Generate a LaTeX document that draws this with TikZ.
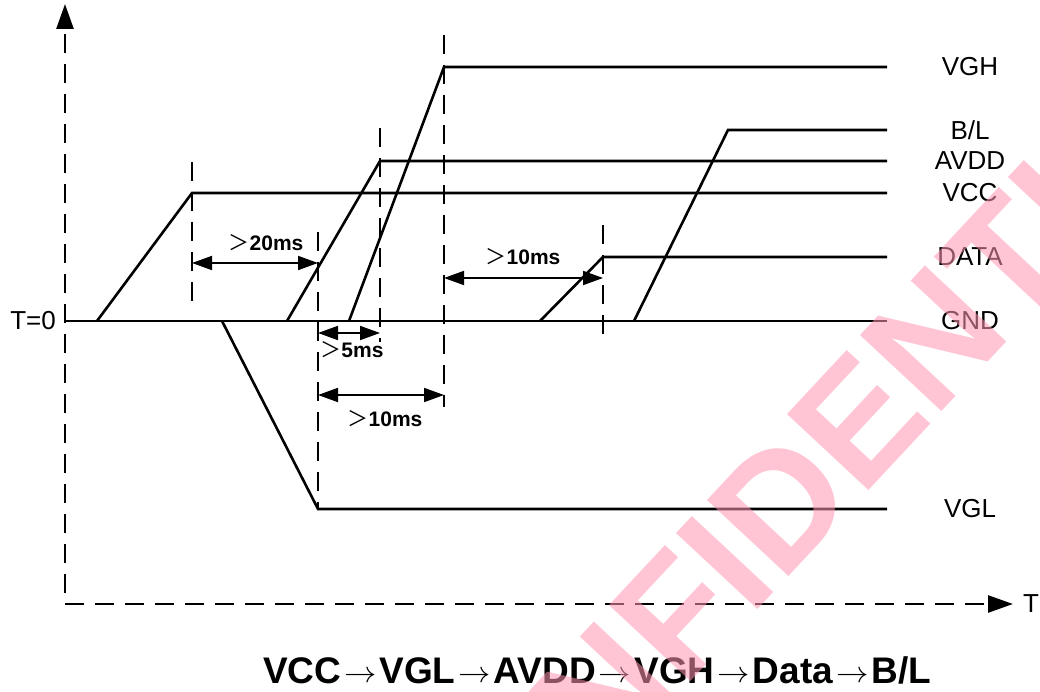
\documentclass[tikz,border=0pt]{standalone}
\usepackage{fontspec}
\setmainfont{Liberation Sans}
\newfontfamily\cjk{Noto Sans CJK SC}
\usetikzlibrary{arrows.meta,positioning,calc}
\definecolor{wmpink}{RGB}{255,150,178}
\tikzset{
  sigln/.style={line width=2.6pt, line join=miter},
  dashln/.style={line width=2.6pt, dash pattern=on 19pt off 11pt},
  axisln/.style={dashln, -{Triangle[length=25pt,width=17pt]}},
  dimln/.style={{Triangle[length=20pt,width=14pt]}-{Triangle[length=20pt,width=14pt]}, line width=1.8pt},
  siglab/.style={font=\fontsize{26}{30}\selectfont},
  dimlab/.style={font=\fontsize{21}{24}\selectfont\bfseries, inner sep=0pt},
}
\newcommand{\moreThan}{{\cjk\mdseries ＞}}
\newcommand{\seqarr}{\kern3pt\raisebox{1pt}{\scalebox{1.3}[1.2]{$\rightarrow$}}\kern3pt}
\newcommand{\dimarrow}[6]{%
  \coordinate (#1-l) at (#2,#4);
  \coordinate (#1-r) at (#3,#4);
  \draw[dimln] (#1-l) -- (#1-r);
  \node[dimlab] (#1-t) at #6 {\moreThan#5};
}

\begin{document}
\begin{tikzpicture}[x=1pt, y=-1pt]
    \useasboundingbox (0,0) rectangle (1040,692);
    % axes
    \coordinate (org) at (65,604);
    \draw[axisln] (65,593) -- (65,4);
    \draw[axisln] (org) -- (1013,604);
    \node[siglab] (taxis) at (1031,604) {T};
    \node[siglab, anchor=east, inner sep=0pt] (tzero) at (56,321) {T=0};
    % GND
    \draw[sigln] (65,321) -- (887,321);
    \node[siglab] (lab-gnd) at (970,321) {GND};
    % supplies ramping up (or down for VGL)
    \foreach \nm/\xa/\xb/\yy/\lab in {vcc/97/192/193/VCC, vgl/222/318/509/VGL,
        avdd/287/380/161/AVDD, vgh/349/444/67/VGH, data/540/603/257/DATA,
        bl/634/728/130/{B/L}} {
      \coordinate (\nm-a) at (\xa,321);
      \coordinate (\nm-b) at (\xb,\yy);
      \coordinate (\nm-c) at (887,\yy);
      \draw[sigln] (\nm-a) -- (\nm-b) -- (\nm-c);
      \node[siglab] (lab-\nm) at (970,\yy) {\lab};
    }
    % timing markers
    \foreach \xx/\ya/\yb in {192/162/312, 318/232/509, 380/128/342,
        444/35/407, 603/225/340} {
      \draw[dashln] (\xx,\ya) -- (\xx,\yb);
    }
    \dimarrow{dvcc}{192}{318}{263}{20ms}{(266,243)}
    \dimarrow{davdd}{318}{380}{333}{5ms}{(352,350)}
    \dimarrow{dvgh}{318}{444}{395}{10ms}{(385,419)}
    \dimarrow{ddata}{444}{603}{278}{10ms}{(523,257)}
    % sequence
    \node[font=\fontsize{37}{40}\selectfont\bfseries, inner sep=0pt] (seq) at (597,670)
      {VCC\seqarr VGL\seqarr AVDD\seqarr VGH\seqarr Data\seqarr B/L};
    % watermark
    \node[wmpink, opacity=0.55, rotate=47, font=\fontsize{162}{162}\selectfont\bfseries]
      (wm) at (808,474) {CONFIDENTIAL};
  \end{tikzpicture}
\end{document}
